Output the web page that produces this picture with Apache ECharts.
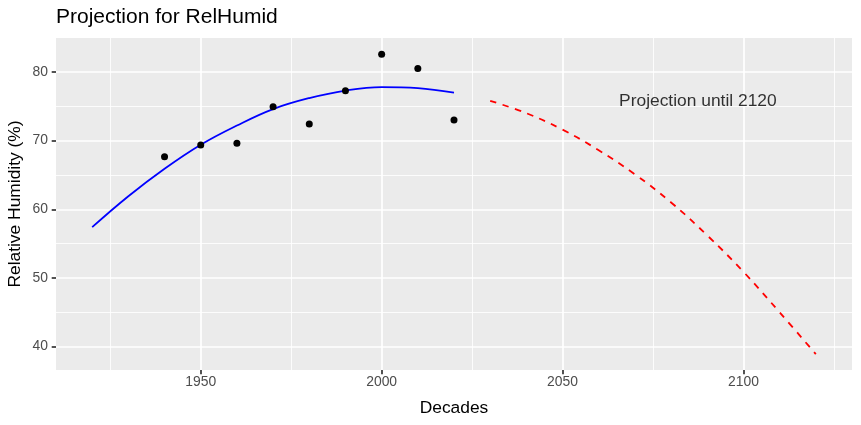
<!DOCTYPE html>
<html><head><meta charset="utf-8">
<script src="https://cdn.jsdelivr.net/npm/echarts@6/dist/echarts.min.js"></script>
<style>html,body{margin:0;padding:0;background:#fff}#c{width:861px;height:425px}</style>
</head><body><div id="c"></div>
<script>
// Observed decade values
const obsYears = [1940, 1950, 1960, 1970, 1980, 1990, 2000, 2010, 2020];
const obsValues = [67.65, 69.35, 69.64, 74.93, 72.41, 77.26, 82.6, 80.5, 72.99];
// Fitted curve
const fitYears = [1920, 1930, 1940, 1950, 1960, 1970, 1980, 1990, 2000, 2010, 2020];
const fitValues = [57.4, 61.9, 65.9, 69.4, 72.2, 74.6, 76.2, 77.3, 77.8, 77.65, 77.0];
// Projection
const projYears = [2030, 2040, 2050, 2060, 2070, 2080, 2090, 2100, 2110, 2120];
const projValues = [75.8, 74.0, 71.6, 68.6, 65.1, 61.0, 56.2, 50.9, 45.0, 38.9];
// Ticks
const xMajorTicks = [1950, 2000, 2050, 2100];
const xMinorTicks = [1925, 1975, 2025, 2075, 2125];
const yMajorTicks = [40, 50, 60, 70, 80];
const yMinorTicks = [45, 55, 65, 75];
// Annotation
const annText = ['Projection until 2120'];
const annX = [2087.4];
const annY = [75.7];

const FONT = 'Liberation Sans, Arial, sans-serif';
const xMin = 1910, xMax = 2130, yMin = 36.6, yMax = 84.95;

const chart = echarts.init(document.getElementById('c'), null, {renderer: 'canvas'});
chart.setOption({
  animation: false,
  backgroundColor: '#ffffff',
  title: {
    text: 'Projection for RelHumid', left: 56, top: 7, padding: 0,
    textStyle: {fontFamily: FONT, fontSize: 21, fontWeight: 'normal', color: '#000'}
  },
  grid: {left: 56, right: 9, top: 38, bottom: 55, show: true, backgroundColor: '#EBEBEB', borderWidth: 0, containLabel: false, outerBoundsMode: 'none'},
  xAxis: [
    {
      type: 'value', min: xMin, max: xMax, position: 'bottom',
      name: 'Decades', nameLocation: 'middle', nameGap: 30,
      nameTextStyle: {fontFamily: FONT, fontSize: 17.4, color: '#000'},
      axisLine: {show: false},
      axisTick: {show: true, length: 4.3, lineStyle: {color: '#333333', width: 1.7}, customValues: xMajorTicks},
      axisLabel: {customValues: xMajorTicks, formatter: v => String(v), color: '#4D4D4D', fontFamily: FONT, fontSize: 13.9, margin: 5},
      splitLine: {show: true, lineStyle: {color: '#ffffff', width: 1.7}}
    },
    {
      type: 'value', min: xMin, max: xMax, position: 'top',
      axisLine: {show: false},
      axisTick: {show: false, customValues: xMinorTicks},
      axisLabel: {show: false, customValues: xMinorTicks},
      splitLine: {show: true, lineStyle: {color: '#ffffff', width: 0.85}}
    }
  ],
  yAxis: [
    {
      type: 'value', min: yMin, max: yMax, position: 'left',
      name: 'Relative Humidity (%)', nameLocation: 'middle', nameGap: 32, nameMoveOverlap: false,
      nameTextStyle: {fontFamily: FONT, fontSize: 17.4, color: '#000'},
      axisLine: {show: false},
      axisTick: {show: true, length: 4.3, lineStyle: {color: '#333333', width: 1.7}, customValues: yMajorTicks},
      axisLabel: {customValues: yMajorTicks, formatter: v => String(v), color: '#4D4D4D', fontFamily: FONT, fontSize: 13.9, margin: 8},
      splitLine: {show: true, lineStyle: {color: '#ffffff', width: 1.7}}
    },
    {
      type: 'value', min: yMin, max: yMax, position: 'right',
      axisLine: {show: false},
      axisTick: {show: false, customValues: yMinorTicks},
      axisLabel: {show: false, customValues: yMinorTicks},
      splitLine: {show: true, lineStyle: {color: '#ffffff', width: 0.85}}
    }
  ],
  series: [
    {
      type: 'line', name: 'fit', xAxisIndex: 0, yAxisIndex: 0,
      data: fitYears.map((y, i) => [y, fitValues[i]]),
      smooth: 0.4, showSymbol: false, symbol: 'none',
      lineStyle: {color: '#0000FF', width: 1.8}, z: 3
    },
    {
      type: 'line', name: 'projection', xAxisIndex: 0, yAxisIndex: 0,
      data: projYears.map((y, i) => [y, projValues[i]]),
      smooth: 0.4, showSymbol: false, symbol: 'none',
      lineStyle: {color: '#FF0000', width: 1.8, type: [6.5, 6.5]}, z: 3
    },
    {
      type: 'scatter', name: 'obs', xAxisIndex: 0, yAxisIndex: 0,
      data: obsYears.map((y, i) => [y, obsValues[i]]),
      symbol: 'circle', symbolSize: 7,
      itemStyle: {color: '#000000', opacity: 1}, z: 4
    },
    {
      type: 'scatter', name: 'annotation', xAxisIndex: 0, yAxisIndex: 0,
      data: annX.map((x, i) => ({value: [x, annY[i]], name: annText[i]})),
      symbolSize: 0, silent: true,
      label: {show: true, position: 'inside', formatter: p => p.name, fontFamily: FONT, fontSize: 17.4, color: '#000'},
      z: 5
    }
  ]
});
</script>
</body></html>
